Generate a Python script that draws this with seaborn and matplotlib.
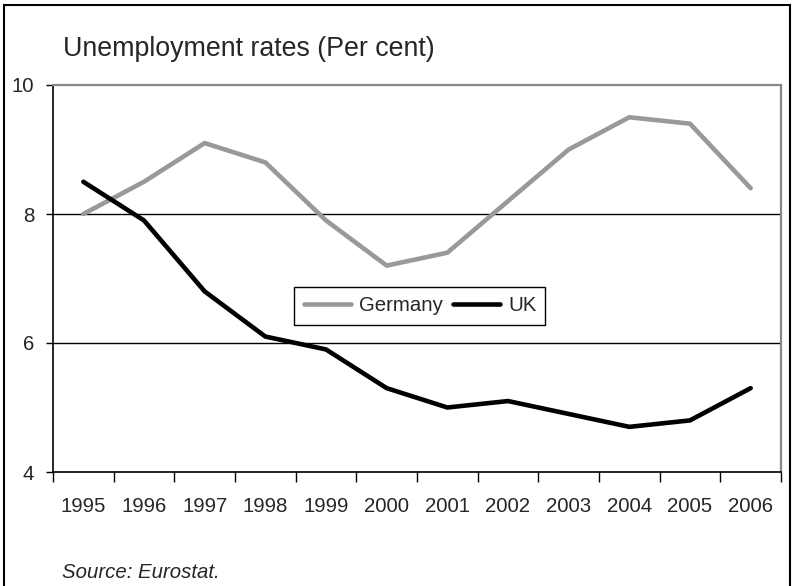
import matplotlib
matplotlib.use("Agg")
import matplotlib.pyplot as plt
import seaborn as sns
import pandas as pd
import numpy as np
from matplotlib.patches import Rectangle

years = ["1995", "1996", "1997", "1998", "1999", "2000", "2001", "2002", "2003", "2004", "2005", "2006"]
germany = [8.0, 8.5, 9.1, 8.8, 7.9, 7.2, 7.4, 8.2, 9.0, 9.5, 9.4, 8.4]
uk = [8.5, 7.9, 6.8, 6.1, 5.9, 5.3, 5.0, 5.1, 4.9, 4.7, 4.8, 5.3]
yticks = [4, 6, 8, 10]

sns.set_theme(style="white")
plt.rcParams['font.family'] = ['Liberation Sans', 'DejaVu Sans']

FS = 14.7

idx = list(range(len(years)))
df = pd.DataFrame({
    "idx": idx * 2,
    "value": germany + uk,
    "country": ["Germany"] * len(years) + ["UK"] * len(years),
})

fig = plt.figure(figsize=(7.93, 5.86), dpi=100)
W, H = 793, 586
ax = fig.add_axes([53 / W, 1 - 472 / H, (781 - 53) / W, (472 - 85) / H])

sns.lineplot(data=df, x="idx", y="value", hue="country",
             palette={"Germany": "#999999", "UK": "#000000"},
             linewidth=3.3, ax=ax, legend=True)

ax.set_xlim(-0.5, len(years) - 0.5)
ax.set_ylim(4, 10)
ax.set_yticks(yticks)
ax.set_yticklabels([str(v) for v in yticks], fontsize=FS)
ax.set_xticks(np.arange(-0.5, len(years), 1.0))
ax.set_xticklabels([])
ax.set_xticks(idx, minor=True)
ax.set_xticklabels(years, minor=True, fontsize=FS)
ax.tick_params(axis="x", which="major", length=7, width=1, color="black", direction="out", bottom=True)
ax.tick_params(axis="x", which="minor", length=0, pad=18)
ax.tick_params(axis="y", length=5, width=1, color="black", direction="out", left=True, pad=8.5)
ax.set_xlabel("")
ax.set_ylabel("")

for y in [6, 8]:
    ax.axhline(y, color="black", linewidth=1, zorder=0)

ax.spines["left"].set_color("black")
ax.spines["bottom"].set_color("black")
ax.spines["left"].set_linewidth(1.2)
ax.spines["bottom"].set_linewidth(1.2)
ax.spines["top"].set_color("#888888")
ax.spines["right"].set_color("#888888")
ax.spines["top"].set_linewidth(1.6)
ax.spines["right"].set_linewidth(1.6)

leg = ax.legend(loc="center", bbox_to_anchor=(0.504, 0.429), ncol=2, frameon=True,
                fontsize=FS, handlelength=2.3, columnspacing=0.5, handletextpad=0.4,
                borderpad=0.45, borderaxespad=0, fancybox=False, edgecolor="black", framealpha=1)
leg.get_frame().set_linewidth(1)
for line in leg.get_lines():
    line.set_linewidth(3.3)

fig.text(63 / W, 1 - 56 / H, "Unemployment rates (Per cent)", fontsize=19.3, va="baseline", ha="left")
fig.text(62 / W, 1 - 578 / H, "Source: Eurostat.", fontsize=FS, style="italic", va="baseline", ha="left")

fig.patches.append(Rectangle((3.5 / W, -0.05), (790 - 3.5) / W, 1 - 5 / H + 0.05,
                             transform=fig.transFigure, fill=False, edgecolor="black",
                             linewidth=1.5, figure=fig))

fig.savefig("out.png", dpi=100)
